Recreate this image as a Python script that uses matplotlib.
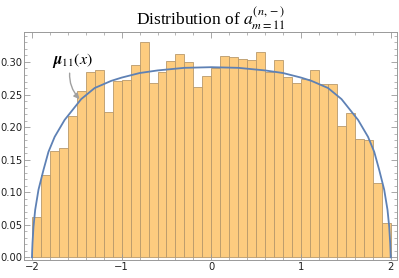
import matplotlib
matplotlib.use("Agg")
import matplotlib.pyplot as plt
from matplotlib.ticker import MultipleLocator, FormatStrFormatter

# histogram: 40 bins of width 0.1 on [-2, 2]
bin_edges = [round(-2 + 0.1 * i, 2) for i in range(41)]
bin_heights = [
    0.062, 0.126, 0.164, 0.168, 0.217, 0.256, 0.285, 0.288, 0.223, 0.271,
    0.273, 0.295, 0.330, 0.267, 0.285, 0.301, 0.312, 0.300, 0.261, 0.279,
    0.290, 0.309, 0.307, 0.305, 0.303, 0.315, 0.284, 0.303, 0.277, 0.267,
    0.274, 0.287, 0.266, 0.266, 0.201, 0.221, 0.181, 0.180, 0.114, 0.053,
]

# density curve mu_11(x)
curve_x = [-2.0, -1.997, -1.994, -1.983, -1.964, -1.927, -1.872, -1.816, -1.747, -1.636,
           -1.451, -1.301, -1.116, -1.0, -0.8, -0.6, -0.3, 0.0,
           0.3, 0.6, 0.8, 1.0, 1.116, 1.301, 1.451, 1.636, 1.747, 1.816,
           1.872, 1.927, 1.964, 1.983, 1.994, 1.997, 2.0]
curve_y = [0.0, 0.012, 0.022, 0.047, 0.073, 0.104, 0.134, 0.162, 0.185, 0.211,
           0.243, 0.260, 0.271, 0.276, 0.283, 0.287, 0.291, 0.292,
           0.291, 0.287, 0.283, 0.276, 0.271, 0.260, 0.243, 0.211, 0.185, 0.162,
           0.134, 0.104, 0.073, 0.047, 0.022, 0.012, 0.0]

plt.rcParams['mathtext.fontset'] = 'stix'

fig = plt.figure(figsize=(3.99, 2.78), dpi=100)
ax = fig.add_axes([0.061, 0.065, 0.934, 0.821])

widths = [bin_edges[i + 1] - bin_edges[i] for i in range(len(bin_heights))]
ax.bar(bin_edges[:-1], bin_heights, width=widths, align='edge',
       facecolor='#fdcc7f', edgecolor='#b8996b', linewidth=0.6, zorder=1)
ax.plot(curve_x, curve_y, color='#5e81b5', linewidth=1.3, zorder=3)

ax.annotate(r'$\boldsymbol{\mu}_{11}(x)$', xy=(-1.47, 0.243), xytext=(-1.55, 0.302),
            fontsize=11.5, ha='center', va='center', zorder=4,
            bbox=dict(boxstyle='square,pad=0.1', facecolor='white', alpha=0.65, edgecolor='none'),
            arrowprops=dict(arrowstyle='-|>', color='#a0a0a0', lw=1.0,
                            connectionstyle='arc3,rad=0.3', shrinkA=1, shrinkB=0,
                            mutation_scale=8))

ax.set_xlim(-2.085, 2.07)
ax.set_ylim(-0.004, 0.3465)
ax.xaxis.set_major_locator(MultipleLocator(1))
ax.xaxis.set_minor_locator(MultipleLocator(0.2))
ax.yaxis.set_major_locator(MultipleLocator(0.05))
ax.yaxis.set_minor_locator(MultipleLocator(0.01))
ax.yaxis.set_major_formatter(FormatStrFormatter('%.2f'))
ax.tick_params(which='both', direction='in', top=True, right=True,
               color='#999999', labelsize=7.2, labelcolor='#222222')
ax.tick_params(which='major', length=4, width=0.6, pad=1.5)
ax.tick_params(which='minor', length=2, width=0.5)
for s in ax.spines.values():
    s.set_color('#999999')
    s.set_linewidth(0.7)

ax.set_title(r'Distribution of $a^{(n,-)}_{m=11}$', fontsize=12.5,
             family='Liberation Serif', pad=4)

fig.savefig('out.png', dpi=100)
